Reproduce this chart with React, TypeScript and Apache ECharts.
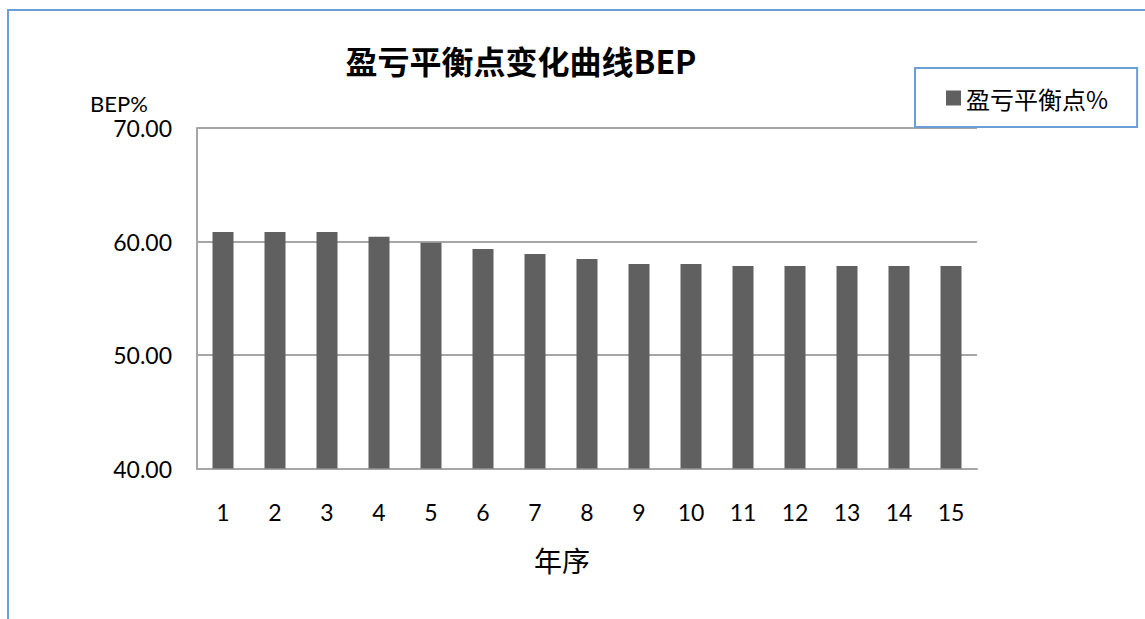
import React, { useEffect, useRef } from "react";
import * as echarts from "echarts";

const categories = ["1", "2", "3", "4", "5", "6", "7", "8", "9", "10", "11", "12", "13", "14", "15"];
const bepValues = [60.84, 60.84, 60.84, 60.42, 59.9, 59.34, 58.9, 58.46, 58.02, 58.02, 57.84, 57.84, 57.84, 57.84, 57.84];
const seriesName = "盈亏平衡点%";
const titleText = "盈亏平衡点变化曲线BEP";
const yAxisName = "BEP%";
const xAxisName = "年序";

export default function App() {
  const ref = useRef<HTMLDivElement>(null);
  useEffect(() => {
    if (!ref.current) return;
    const chart = echarts.init(ref.current, null, { renderer: "svg" });
    const blue = "#6a9fd8";
    const gray = "#a6a6a6";
    const latin = "Lato, 'Noto Sans', sans-serif";
    chart.setOption({
      animation: false,
      backgroundColor: "#fff",
      grid: { left: 197, top: 128, right: 168, bottom: 150.5, containLabel: false },
      legend: {
        show: true,
        data: [seriesName],
        left: 915,
        top: 68,
        orient: "horizontal",
        backgroundColor: "#fff",
        borderColor: blue,
        borderWidth: 2,
        padding: [18, 29, 17, 31],
        icon: "rect",
        itemWidth: 15,
        itemHeight: 15,
        itemGap: 8,
        textStyle: { fontSize: 24, color: "#000", fontFamily: "'Noto Sans CJK SC', sans-serif" },
      },
      xAxis: {
        type: "category",
        data: categories,
        axisLine: { show: true, lineStyle: { color: gray, width: 2 } },
        axisTick: { show: false },
        axisLabel: { color: "#000", fontSize: 23, fontFamily: latin, margin: 32 },
      },
      yAxis: {
        type: "value",
        min: 40,
        max: 70,
        interval: 10,
        axisLine: { show: true, lineStyle: { color: gray, width: 2 } },
        axisTick: { show: false },
        splitLine: { show: true, lineStyle: { color: gray, width: 2 } },
        axisLabel: {
          color: "#000",
          fontSize: 23,
          fontFamily: latin,
          margin: 25,
          formatter: (v: number) => v.toFixed(2),
        },
      },
      series: [
        {
          name: seriesName,
          type: "bar",
          data: bepValues,
          barWidth: 21,
          itemStyle: { color: "#606060" },
        },
      ],
      graphic: [
        {
          type: "rect",
          shape: { x: 8, y: 10, width: 1300, height: 800 },
          style: { fill: "none", stroke: blue, lineWidth: 2 },
          z: 100,
          silent: true,
        },
        {
          type: "text",
          x: 521,
          y: 60,
          style: {
            text: titleText,
            fontSize: 32,
            fontWeight: "bold",
            fontFamily: "'Noto Sans CJK SC', sans-serif",
            fill: "#000",
            align: "center",
            verticalAlign: "middle",
          },
        },
        {
          type: "text",
          x: 90,
          y: 103,
          style: {
            text: yAxisName,
            fontSize: 22,
            fontFamily: latin,
            fill: "#000",
            align: "left",
            verticalAlign: "middle",
          },
        },
        {
          type: "text",
          x: 562,
          y: 560,
          style: {
            text: xAxisName,
            fontSize: 28,
            fontFamily: "'Noto Sans CJK SC', sans-serif",
            fill: "#000",
            align: "center",
            verticalAlign: "middle",
          },
        },
      ],
    });
    return () => chart.dispose();
  }, []);
  return (
    <div
      ref={ref}
      style={{ position: "absolute", left: 0, top: 0, width: 1145, height: 619 }}
    />
  );
}
